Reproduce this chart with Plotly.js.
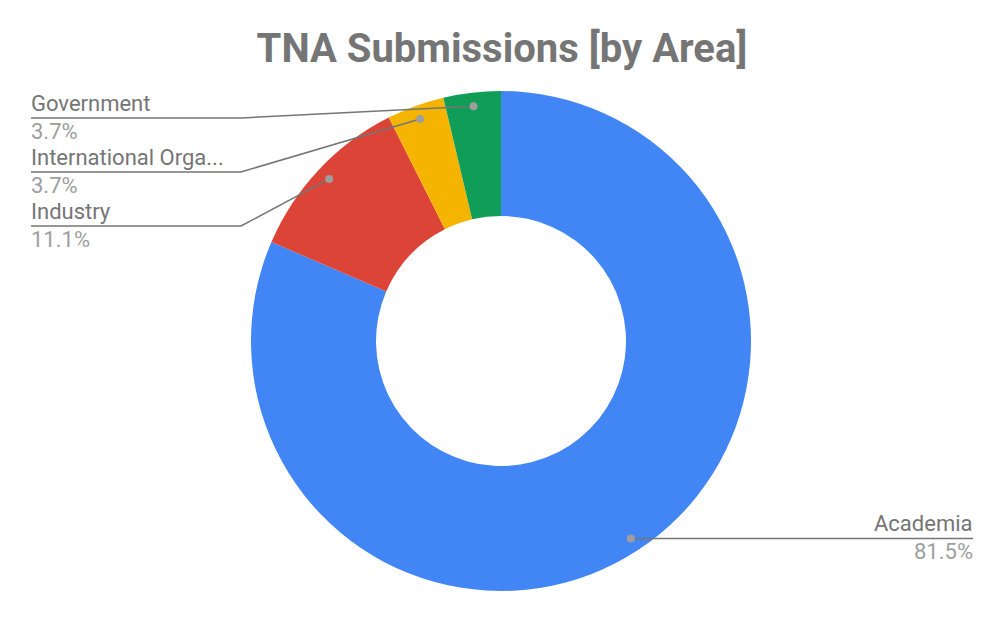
<!DOCTYPE html>
<html>
<head>
<meta charset="utf-8">
<script src="https://cdn.plot.ly/plotly-3.0.1.min.js"></script>
<style>
  html, body { margin: 0; padding: 0; background: #fff; }
  #chart { width: 1004px; height: 622px; }
</style>
</head>
<body>
<div id="chart"></div>
<script>
// data
const areas = ['Academia', 'Industry', 'International Organization', 'Government'];
const submissions = [22, 3, 1, 1];
const sliceColors = ['#4285F4', '#DB4437', '#F4B400', '#0F9D58'];
const shortLabels = ['Academia', 'Industry', 'International Orga...', 'Government'];

const W = 1004, H = 622;
const cx = 501, cy = 341, R = 250;

// pixel -> paper
const px = x => x / W;
const py = y => 1 - y / H;

function main() {
    const total = submissions.reduce((a, b) => a + b, 0);
    const pct = submissions.map(v => (100 * v / total).toFixed(1) + '%');

    // mid angle (clockwise from 12 o'clock) of each slice -> dot position
    let cum = 0;
    const dots = submissions.map(v => {
        const mid = (cum + v / 2) / total * 2 * Math.PI;
        cum += v;
        return { x: cx + 0.945 * R * Math.sin(mid), y: cy - 0.945 * R * Math.cos(mid) };
    });

    const shapes = [];
    const annotations = [];
    const lineColor = '#757575';
    const labelFont = { family: 'Roboto, sans-serif', size: 22, color: '#757575' };
    const pctFont = { family: 'Roboto, sans-serif', size: 22, color: '#9e9e9e' };

    // left-side labels, stacked from the top: Government, International, Industry
    const leftOrder = [3, 2, 1];
    leftOrder.forEach((i, k) => {
        const ly = 118 + k * 54;
        const d = dots[i];
        shapes.push({ type: 'line', xref: 'paper', yref: 'paper',
            x0: px(31), y0: py(ly), x1: px(241), y1: py(ly),
            line: { color: lineColor, width: 1.5 } });
        shapes.push({ type: 'line', xref: 'paper', yref: 'paper',
            x0: px(241), y0: py(ly), x1: px(d.x), y1: py(d.y),
            line: { color: lineColor, width: 1.5 } });
        annotations.push({ xref: 'paper', yref: 'paper', x: px(29), y: py(ly - 15),
            xanchor: 'left', yanchor: 'middle', showarrow: false,
            text: shortLabels[i], font: labelFont });
        annotations.push({ xref: 'paper', yref: 'paper', x: px(29), y: py(ly + 13),
            xanchor: 'left', yanchor: 'middle', showarrow: false,
            text: pct[i], font: pctFont });
    });

    // right-side label: Academia
    const a = dots[0];
    shapes.push({ type: 'line', xref: 'paper', yref: 'paper',
        x0: px(a.x), y0: py(a.y), x1: px(973), y1: py(a.y),
        line: { color: lineColor, width: 1.5 } });
    annotations.push({ xref: 'paper', yref: 'paper', x: px(975), y: py(a.y - 15),
        xanchor: 'right', yanchor: 'middle', showarrow: false,
        text: shortLabels[0], font: labelFont });
    annotations.push({ xref: 'paper', yref: 'paper', x: px(975), y: py(a.y + 13),
        xanchor: 'right', yanchor: 'middle', showarrow: false,
        text: pct[0], font: pctFont });

    // dots
    dots.forEach(d => {
        shapes.push({ type: 'circle', xref: 'paper', yref: 'paper',
            x0: px(d.x - 4), x1: px(d.x + 4), y0: py(d.y - 4), y1: py(d.y + 4),
            fillcolor: '#9e9e9e', line: { width: 0 } });
    });

    const trace = {
        type: 'pie',
        labels: areas,
        values: submissions,
        hole: 0.5,
        sort: false,
        direction: 'clockwise',
        rotation: 0,
        textinfo: 'none',
        hoverinfo: 'label+value+percent',
        marker: { colors: sliceColors, line: { width: 0 } },
        domain: { x: [px(cx - R), px(cx + R)], y: [py(cy + R), py(cy - R)] }
    };

    const layout = {
        width: W,
        height: H,
        margin: { l: 0, r: 0, t: 0, b: 0 },
        showlegend: false,
        paper_bgcolor: '#ffffff',
        title: {
            text: '<b>TNA Submissions [by Area]</b>',
            font: { family: 'Roboto, sans-serif', size: 40, color: '#757575' },
            x: 0.5, xanchor: 'center',
            y: py(48), yanchor: 'middle'
        },
        shapes: shapes,
        annotations: annotations
    };

    Plotly.newPlot('chart', [trace], layout, { displayModeBar: false });
}

main();
</script>
</body>
</html>
